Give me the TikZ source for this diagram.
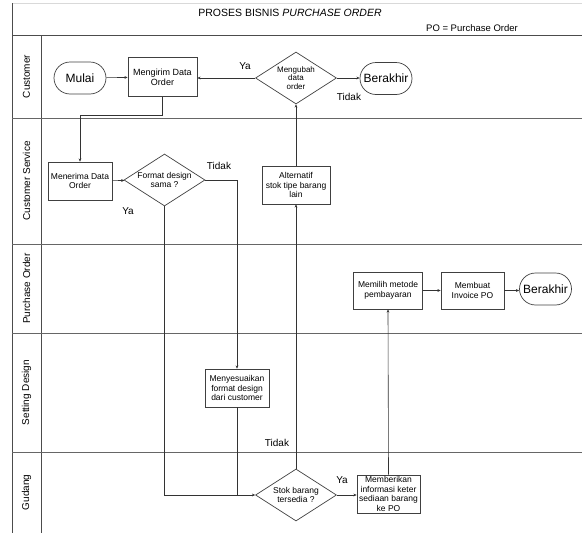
\documentclass[tikz,border=0pt]{standalone}
\usepackage{fontspec}
\setmainfont{Liberation Sans}
\usetikzlibrary{shapes.geometric,shapes.misc,arrows.meta}

\begin{document}
\begin{tikzpicture}[x=1pt,y=-1pt,
  frame/.style={draw=black!70, line width=0.8pt},
  lane/.style={draw=black!60, line width=1pt},
  proc/.style={draw=black!75, line width=0.7pt, rectangle, align=center,
    font=\fontsize{8.5}{9.5}\selectfont, inner sep=1pt},
  decision/.style={draw=black!75, line width=0.7pt, diamond, aspect=1.56,
    minimum width=81pt, minimum height=52pt, inner sep=0pt, align=center,
    font=\fontsize{8.5}{9.5}\selectfont},
  term/.style={draw=black!75, line width=0.7pt, rounded rectangle,
    minimum width=54pt, minimum height=32pt, inner sep=1pt,
    font=\fontsize{12}{14}\selectfont},
  flow/.style={draw=black!80, line width=0.6pt, -{Stealth[length=3.2pt,width=2.8pt]}},
  link/.style={draw=black!80, line width=0.6pt},
  lanename/.style={rotate=90, font=\fontsize{10}{12}\selectfont},
  answer/.style={font=\fontsize{10}{12}\selectfont},
]
\useasboundingbox (0,0) rectangle (582,533);

% swimlane frame
\draw[draw=black!15, line width=0.6pt] (12,3) -- (582,3);
\draw[frame] (12,3) -- (12,533);
\draw[frame] (12,35) -- (582,35);
\draw[frame] (41,35) -- (41,533);
\foreach \yy in {118,244,333,452}
  \draw[lane] (12,\yy) -- (582,\yy);

% title and legend
\node[font=\fontsize{10.5}{12}\selectfont] (title) at (290,13)
  {PROSES BISNIS \textit{PURCHASE ORDER}};
\node[font=\fontsize{9.5}{11}\selectfont] (legend) at (472,28) {PO = Purchase Order};

% lane names
\node[lanename] (lcust) at (26.5,76.5) {Customer};
\node[lanename] (lcs)   at (26.5,181)  {Customer Service};
\node[lanename] (lpo)   at (26.5,288.5){Purchase Order};
\node[lanename] (lsd)   at (26.5,392.5){Setting Design};
\node[lanename] (lgd)   at (26.5,492.5){Gudang};

% Customer lane
\node[term] (mulai) at (80,78) {Mulai};
\node[proc, minimum width=69pt, minimum height=39pt,
      font=\fontsize{9}{10}\selectfont] (kirim) at (162.5,77) {Mengirim Data\\Order};
\node[decision, font=\fontsize{8}{8.6}\selectfont] (ubah) at (296,78) {Mengubah\\data\\order};
\node[term] (akhir1) at (386,78.5) {Berakhir};

% Customer Service lane
\node[proc, minimum width=64pt, minimum height=38pt] (terima) at (80,181) {Menerima Data\\Order};
\node[decision] (format) at (164.5,180) {Format design\\sama ?};
\node[proc, minimum width=68pt, minimum height=38pt] (alt) at (296,185) {Alternatif\\stok tipe barang\\lain};

% Purchase Order lane
\node[proc, minimum width=69pt, minimum height=37pt] (pilih) at (388,290.5) {Memilih metode\\pembayaran};
\node[proc, minimum width=63pt, minimum height=37pt] (invoice) at (472.5,290.5) {Membuat\\Invoice PO};
\node[term] (akhir2) at (545.5,289) {Berakhir};

% Setting Design lane
\node[proc, minimum width=64pt, minimum height=38pt] (sesuai) at (237,388) {Menyesuaikan\\format design\\dari customer};

% Gudang lane
\node[decision] (stok) at (296,495) {Stok barang\\tersedia ?};
\node[proc, minimum width=63pt, minimum height=38pt] (info) at (388.5,494) {Memberikan\\informasi keter\\sediaan barang\\ke PO};

% connectors
\draw[flow] (mulai) -- (kirim);
\draw[flow] (kirim.south) -- ++(0,18) -| (terima.north);
\draw[flow] (terima) -- (format);
\draw[flow] (format.east) -| (sesuai.north);
\draw[flow] (format.south) |- (stok.west);
\draw[link] (sesuai.south) -- (sesuai.south |- stok.west);
\draw[flow] (stok.north) -- (alt.south);
\draw[flow] (alt.north) -- (ubah.south);
\draw[flow] (ubah.west) -- (kirim.east |- ubah.west);
\draw[flow] (ubah.east) -- (akhir1.west |- ubah.east);
\draw[flow] (stok.east) -- (info.west |- stok.east);
\draw[flow] (info.north) -- (pilih.south);
\draw[flow] (pilih) -- (invoice);
\draw[flow] (invoice.east) -- (akhir2.west |- invoice.east);

% branch labels
\node[answer] (ya1)    at (245,66)  {Ya};
\node[answer] (tidak1) at (349,97)  {Tidak};
\node[answer] (tidak2) at (219,166) {Tidak};
\node[answer] (ya2)    at (128,211) {Ya};
\node[answer] (tidak3) at (277,443) {Tidak};
\node[answer] (ya3)    at (342,480) {Ya};
\end{tikzpicture}
\end{document}
